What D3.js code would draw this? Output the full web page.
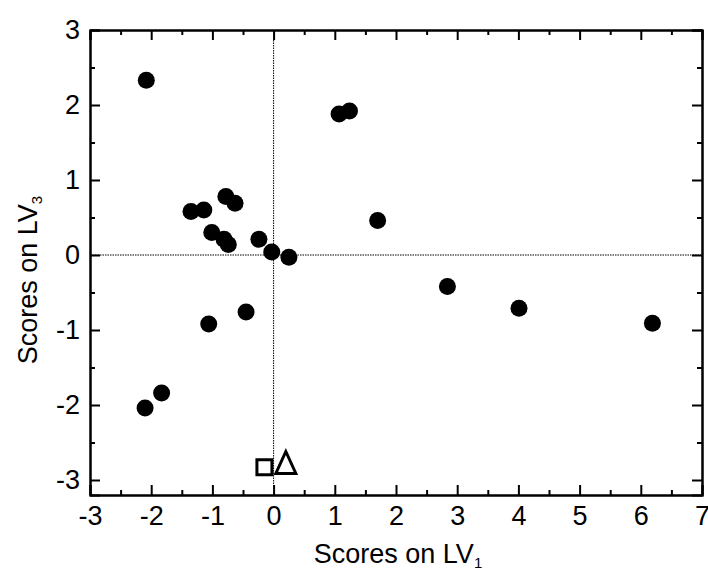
<!DOCTYPE html>
<html lang="en">
  <head>
    <meta charset="utf-8" />
    <title>LV scores</title>
    <script src="https://d3js.org/d3.v7.min.js"></script>
    <style>
      body {
        margin: 0;
        padding: 0;
        background: #fff;
      }
      .axis path, .axis line {
        stroke: #000;
        stroke-width: 2px;
      }
      .axis text {
        font-family: "Liberation Sans", Arial, sans-serif;
        font-size: 27px;
        fill: #000;
      }
      .title {
        font-family: "Liberation Sans", Arial, sans-serif;
        font-size: 27px;
        fill: #000;
      }
    </style>
  </head>
  <body>
    <svg id="chart" width="708" height="576"></svg>

    <script>
      // samples (filled circles)
      var scoreLV1 = [-2.08, 1.07, 1.24, -1.35, -1.14, -0.78, -0.63, -1.01, -0.81, -0.74,
                      -0.24, -0.03, 0.25, 1.70, -1.06, -0.45, 2.84, 4.01, 6.19, -2.10, -1.83];
      var scoreLV3 = [2.33, 1.88, 1.92, 0.58, 0.60, 0.78, 0.69, 0.30, 0.21, 0.14,
                      0.21, 0.04, -0.03, 0.46, -0.92, -0.76, -0.42, -0.71, -0.91, -2.04, -1.84];

      // open markers near the bottom
      var squareLV1 = [-0.15];
      var squareLV3 = [-2.83];
      var triangleLV1 = [0.20];
      var triangleLV3 = [-2.82];

      var xTicks = [-3, -2, -1, 0, 1, 2, 3, 4, 5, 6, 7];
      var yTicks = [-3, -2, -1, 0, 1, 2, 3];

      var svg = d3.select("#chart");

      var pLeft = 90, pRight = 702, pTop = 30, pBottom = 495;

      var x = d3.scaleLinear().domain([-3, 7]).range([pLeft, pRight]);
      var y = d3.scaleLinear().domain([-3.2, 3]).range([pBottom, pTop]);

      var xMinor = d3.range(-2.5, 7, 1);
      var yMinor = d3.range(-2.5, 3, 1);

      // dotted zero lines
      svg.append("line")
        .attr("x1", pLeft).attr("x2", pRight)
        .attr("y1", y(0)).attr("y2", y(0))
        .attr("stroke", "#000")
        .attr("stroke-width", 1)
        .attr("stroke-dasharray", "1.5,1");
      svg.append("line")
        .attr("x1", x(0)).attr("x2", x(0))
        .attr("y1", pTop).attr("y2", pBottom)
        .attr("stroke", "#000")
        .attr("stroke-width", 1)
        .attr("stroke-dasharray", "1.5,1");

      // axes, ticks pointing inward
      svg.append("g")
        .attr("class", "axis")
        .attr("transform", "translate(0," + pBottom + ")")
        .call(d3.axisBottom(x).tickValues(xTicks).tickSize(-10).tickPadding(11).tickFormat(d3.format("d")));
      svg.append("g")
        .attr("class", "axis")
        .attr("transform", "translate(0," + pBottom + ")")
        .call(d3.axisBottom(x).tickValues(xMinor).tickSize(-5).tickSizeOuter(0).tickFormat(""));
      svg.append("g")
        .attr("class", "axis")
        .attr("transform", "translate(0," + pTop + ")")
        .call(d3.axisTop(x).tickValues(xTicks).tickSize(-10).tickFormat(""));
      svg.append("g")
        .attr("class", "axis")
        .attr("transform", "translate(0," + pTop + ")")
        .call(d3.axisTop(x).tickValues(xMinor).tickSize(-5).tickSizeOuter(0).tickFormat(""));

      svg.append("g")
        .attr("class", "axis")
        .attr("transform", "translate(" + pLeft + ",0)")
        .call(d3.axisLeft(y).tickValues(yTicks).tickSize(-10).tickPadding(10).tickFormat(d3.format("d")));
      svg.append("g")
        .attr("class", "axis")
        .attr("transform", "translate(" + pLeft + ",0)")
        .call(d3.axisLeft(y).tickValues(yMinor).tickSize(-5).tickSizeOuter(0).tickFormat(""));
      svg.append("g")
        .attr("class", "axis")
        .attr("transform", "translate(" + pRight + ",0)")
        .call(d3.axisRight(y).tickValues(yTicks).tickSize(-10).tickFormat(""));
      svg.append("g")
        .attr("class", "axis")
        .attr("transform", "translate(" + pRight + ",0)")
        .call(d3.axisRight(y).tickValues(yMinor).tickSize(-5).tickSizeOuter(0).tickFormat(""));

      // plain hyphen for negatives, like the original
      svg.selectAll(".axis text").text(function() {
        return this.textContent.replace("\u2212", "-");
      });

      // filled circles
      svg.append("g")
        .selectAll("circle")
        .data(d3.range(scoreLV1.length))
        .enter()
        .append("circle")
        .attr("cx", function(i){ return x(scoreLV1[i]); })
        .attr("cy", function(i){ return y(scoreLV3[i]); })
        .attr("r", 8.5)
        .attr("fill", "#000");

      // open square
      svg.append("g")
        .selectAll("rect")
        .data(d3.range(squareLV1.length))
        .enter()
        .append("rect")
        .attr("x", function(i){ return x(squareLV1[i]) - 7.5; })
        .attr("y", function(i){ return y(squareLV3[i]) - 7.5; })
        .attr("width", 15)
        .attr("height", 15)
        .attr("fill", "none")
        .attr("stroke", "#000")
        .attr("stroke-width", 3);

      // open triangle
      svg.append("g")
        .selectAll("path")
        .data(d3.range(triangleLV1.length))
        .enter()
        .append("path")
        .attr("transform", function(i){ return "translate(" + x(triangleLV1[i]) + "," + y(triangleLV3[i]) + ")"; })
        .attr("d", "M0,-15 L10,7 L-10,7 Z")
        .attr("fill", "none")
        .attr("stroke", "#000")
        .attr("stroke-width", 3)
        .attr("stroke-linejoin", "miter");

      // axis titles
      var xt = svg.append("text")
        .attr("class", "title")
        .attr("x", (pLeft + pRight) / 2 + 2)
        .attr("y", 563)
        .attr("text-anchor", "middle");
      xt.append("tspan").text("Scores on LV");
      xt.append("tspan").attr("dy", 5).style("font-size", "15px").text("1");

      var yt = svg.append("text")
        .attr("class", "title")
        .attr("transform", "translate(37," + 280 + ") rotate(-90)")
        .attr("text-anchor", "middle");
      yt.append("tspan").text("Scores on LV");
      yt.append("tspan").attr("dy", 5).style("font-size", "15px").text("3");
    </script>
  </body>
</html>
